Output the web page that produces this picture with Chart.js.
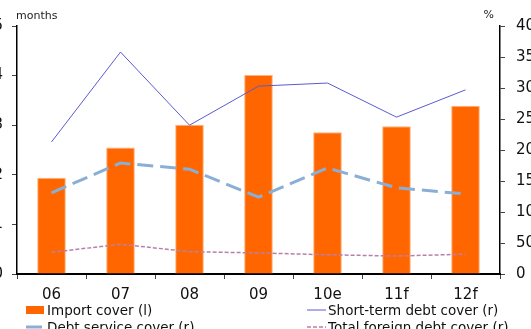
<!DOCTYPE html>
<html>
<head>
<meta charset="utf-8">
<script src="https://cdn.jsdelivr.net/npm/chart.js@4"></script>
<style>
  html, body { margin: 0; padding: 0; background: #fff; overflow: hidden; }
  #wrap { position: absolute; left: -20px; top: 0; }
</style>
</head>
<body>
<div id="wrap"><canvas id="grafico" width="580" height="345"></canvas></div>
<script>
const anos = ['06', '07', '08', '09', '10e', '11f', '12f'];
const importCover = [1.94, 2.55, 3.01, 4.01, 2.86, 2.98, 3.39];
const shortTermCover = [213, 358, 240, 303, 308, 253, 297];
const debtServiceCover = [131, 179, 169, 124, 171, 139, 129];
const totalForeignCover = [35, 48, 36, 34, 31, 29, 32];

const fonte = 'DejaVu Sans';

// unit labels above the axes + legend in two columns under the chart
const textosExtras = {
  id: 'textosExtras',
  afterDraw(chart) {
    const ctx = chart.ctx;
    const area = chart.chartArea;
    ctx.save();
    ctx.fillStyle = '#222';
    ctx.font = '11px "' + fonte + '"';
    ctx.textBaseline = 'alphabetic';
    ctx.textAlign = 'left';
    ctx.fillText('months', area.left - 1, area.top - 7);
    ctx.textAlign = 'right';
    ctx.fillText('%', area.right - 6, area.top - 8);

    const itens = [
      { ds: 0, x: 46, y: 315 },
      { ds: 1, x: 327, y: 315 },
      { ds: 2, x: 46, y: 332 },
      { ds: 3, x: 327, y: 332 }
    ];
    ctx.font = '13.5px "' + fonte + '"';
    ctx.textAlign = 'left';
    itens.forEach(item => {
      const d = chart.data.datasets[item.ds];
      const meio = item.y - 5;
      if (d.type === 'bar') {
        ctx.fillStyle = d.backgroundColor;
        ctx.fillRect(item.x, meio - 4, 18, 8);
      } else {
        ctx.strokeStyle = d.borderColor;
        ctx.lineWidth = d.borderWidth;
        ctx.setLineDash(d.borderDash || []);
        ctx.beginPath();
        ctx.moveTo(item.x, meio);
        ctx.lineTo(item.x + 19, meio);
        ctx.stroke();
        ctx.setLineDash([]);
      }
      ctx.fillStyle = '#111';
      ctx.fillText(d.label, item.x + 21, item.y);
    });
    ctx.restore();
  }
};

const ctx = document.getElementById('grafico');

new Chart(ctx, {
  data: {
    labels: anos,
    datasets: [
      {
        type: 'bar',
        label: 'Import cover (l)',
        data: importCover,
        backgroundColor: '#ff6600',
        borderColor: '#ffb27a',
        borderWidth: 1,
        barPercentage: 0.415,
        categoryPercentage: 1,
        yAxisID: 'y',
        order: 1
      },
      {
        type: 'line',
        label: 'Short-term debt cover (r)',
        data: shortTermCover,
        borderColor: '#5a5ad0',
        borderWidth: 1,
        pointRadius: 0,
        tension: 0,
        yAxisID: 'y1',
        order: 0
      },
      {
        type: 'line',
        label: 'Debt service cover (r)',
        data: debtServiceCover,
        borderColor: '#8aafd6',
        borderWidth: 3,
        borderDash: [16, 7],
        pointRadius: 0,
        tension: 0,
        yAxisID: 'y1',
        order: 0
      },
      {
        type: 'line',
        label: 'Total foreign debt cover (r)',
        data: totalForeignCover,
        borderColor: '#b880a8',
        borderWidth: 1.5,
        borderDash: [4, 2],
        pointRadius: 0,
        tension: 0,
        yAxisID: 'y1',
        order: 0
      }
    ]
  },
  options: {
    responsive: false,
    animation: false,
    layout: { padding: { top: 26, bottom: 40, left: 0, right: 0 } },
    plugins: {
      legend: { display: false },
      tooltip: { enabled: false }
    },
    scales: {
      x: {
        afterFit: s => { s.height = 31; },
        grid: { offset: true, drawOnChartArea: false, tickLength: 5, color: '#444' },
        border: { color: '#000', width: 2 },
        ticks: { color: '#111', padding: 7, font: { family: fonte, size: 15 } }
      },
      y: {
        position: 'left',
        min: 0,
        max: 5,
        afterFit: s => { s.width = 37; },
        grid: { drawOnChartArea: false, tickLength: 5, color: '#444' },
        border: { color: '#000', width: 1.5 },
        ticks: { stepSize: 1, color: '#111', padding: 9, font: { family: fonte, size: 15 } }
      },
      y1: {
        position: 'right',
        min: 0,
        max: 400,
        afterFit: s => { s.width = 60; },
        grid: { drawOnChartArea: false, tickLength: 5, color: '#444' },
        border: { color: '#000', width: 1.5 },
        ticks: { stepSize: 50, color: '#111', padding: 11, font: { family: fonte, size: 15 } }
      }
    }
  },
  plugins: [textosExtras]
});
</script>
</body>
</html>
